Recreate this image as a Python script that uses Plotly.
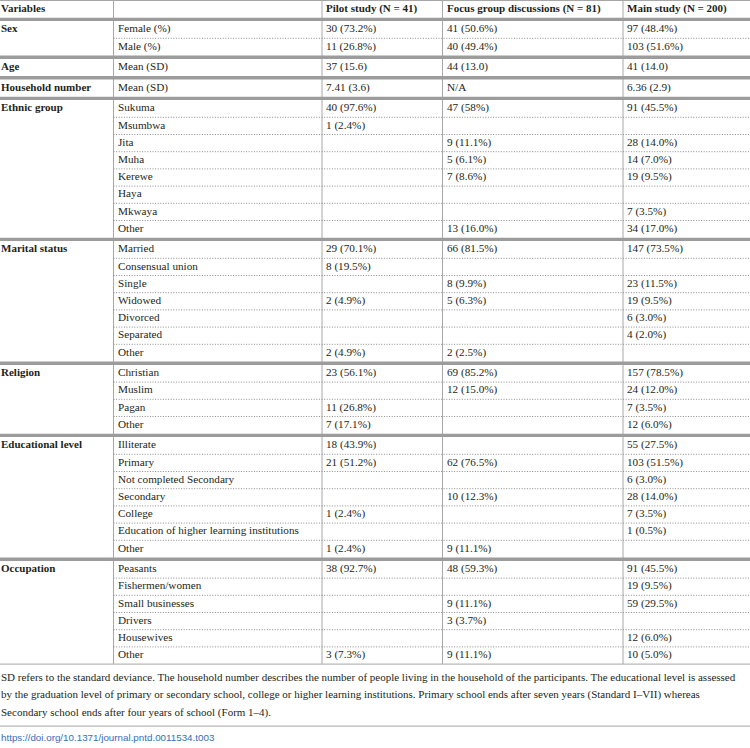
import plotly.graph_objects as go

# ---------------- data ----------------
header = ["Variables", "", "Pilot study (N = 41)", "Focus group discussions (N = 81)", "Main study (N = 200)"]

groups = ["Sex", "Age", "Household number", "Ethnic group", "Marital status",
          "Religion", "Educational level", "Occupation"]

subcats = [
    ["Female (%)", "Male (%)"],
    ["Mean (SD)"],
    ["Mean (SD)"],
    ["Sukuma", "Msumbwa", "Jita", "Muha", "Kerewe", "Haya", "Mkwaya", "Other"],
    ["Married", "Consensual union", "Single", "Widowed", "Divorced", "Separated", "Other"],
    ["Christian", "Muslim", "Pagan", "Other"],
    ["Illiterate", "Primary", "Not completed Secondary", "Secondary", "College",
     "Education of higher learning institutions", "Other"],
    ["Peasants", "Fishermen/women", "Small businesses", "Drivers", "Housewives", "Other"],
]

pilot = [
    ["30 (73.2%)", "11 (26.8%)"],
    ["37 (15.6)"],
    ["7.41 (3.6)"],
    ["40 (97.6%)", "1 (2.4%)", "", "", "", "", "", ""],
    ["29 (70.1%)", "8 (19.5%)", "", "2 (4.9%)", "", "", "2 (4.9%)"],
    ["23 (56.1%)", "", "11 (26.8%)", "7 (17.1%)"],
    ["18 (43.9%)", "21 (51.2%)", "", "", "1 (2.4%)", "", "1 (2.4%)"],
    ["38 (92.7%)", "", "", "", "", "3 (7.3%)"],
]

focus = [
    ["41 (50.6%)", "40 (49.4%)"],
    ["44 (13.0)"],
    ["N/A"],
    ["47 (58%)", "", "9 (11.1%)", "5 (6.1%)", "7 (8.6%)", "", "", "13 (16.0%)"],
    ["66 (81.5%)", "", "8 (9.9%)", "5 (6.3%)", "", "", "2 (2.5%)"],
    ["69 (85.2%)", "12 (15.0%)", "", ""],
    ["", "62 (76.5%)", "", "10 (12.3%)", "", "", "9 (11.1%)"],
    ["48 (59.3%)", "", "9 (11.1%)", "3 (3.7%)", "", "9 (11.1%)"],
]

main = [
    ["97 (48.4%)", "103 (51.6%)"],
    ["41 (14.0)"],
    ["6.36 (2.9)"],
    ["91 (45.5%)", "", "28 (14.0%)", "14 (7.0%)", "19 (9.5%)", "", "7 (3.5%)", "34 (17.0%)"],
    ["147 (73.5%)", "", "23 (11.5%)", "19 (9.5%)", "6 (3.0%)", "4 (2.0%)", ""],
    ["157 (78.5%)", "24 (12.0%)", "7 (3.5%)", "12 (6.0%)"],
    ["55 (27.5%)", "103 (51.5%)", "6 (3.0%)", "28 (14.0%)", "7 (3.5%)", "1 (0.5%)", ""],
    ["91 (45.5%)", "19 (9.5%)", "59 (29.5%)", "", "12 (6.0%)", "10 (5.0%)"],
]

footnote = [
    "SD refers to the standard deviance. The household number describes the number of people living in the household of the participants. The educational level is assessed",
    "by the graduation level of primary or secondary school, college or higher learning institutions. Primary school ends after seven years (Standard I\u2013VII) whereas",
    "Secondary school ends after four years of school (Form 1\u20134).",
]
doi = "https://doi.org/10.1371/journal.pntd.0011534.t003"

# ---------------- layout constants ----------------
W, H = 750, 748
col_edges = [0, 113.5, 322, 442.5, 623, W]
text_x = [1, 118, 326, 447, 627]
row_h = 17.2
thick = 3.4
txt_color = "#231f20"
serif = "Liberation Serif, Times New Roman, serif"
fs = 11.2
fs_bold = 11

shapes = []
def hline(y, x0, x1, color, width, dash="solid"):
    shapes.append(dict(type="line", xref="x", yref="y", x0=x0, x1=x1, y0=y, y1=y,
                       line=dict(color=color, width=width, dash=dash), layer="above"))

tx, ty, tt = [], [], []
bx, by, bt = [], [], []
def cell(col, y, text):
    if text:
        tx.append(text_x[col]); ty.append(y); tt.append(text)
def bcell(col, y, text):
    if text:
        bx.append(text_x[col]); by.append(y); bt.append("<b>%s</b>" % text)

y = 0.5
hline(y, 0, W, "#a6a6a6", 1)
hc = y + row_h / 2
for c, h in enumerate(header):
    bcell(c, hc, h)
y += row_h
thick_lines = [y + thick / 2]
y += thick

dotted = []
for g in range(len(groups)):
    for r in range(len(subcats[g])):
        c = y + row_h / 2
        if r == 0:
            bcell(0, c, groups[g])
        cell(1, c, subcats[g][r])
        cell(2, c, pilot[g][r])
        cell(3, c, focus[g][r])
        cell(4, c, main[g][r])
        y += row_h
        if r < len(subcats[g]) - 1:
            dotted.append(y)
    if g < len(groups) - 1:
        thick_lines.append(y + thick / 2)
        y += thick
table_bottom = y

# vertical column separators
for xe in col_edges[1:-1]:
    shapes.append(dict(type="line", xref="x", yref="y", x0=xe, x1=xe, y0=0, y1=table_bottom,
                       line=dict(color="#a8a8a8", width=1), layer="above"))
for yd in dotted:
    hline(yd, col_edges[1], W, "#8c8c8c", 1, "1px,1.6px")
for yt in thick_lines:
    hline(yt, 0, W, "#9c9c9c", thick)
hline(table_bottom, 0, W, "#a6a6a6", 1)

fig = go.Figure()
fig.add_trace(go.Scatter(x=tx, y=ty, text=tt, mode="text", textposition="middle right",
                         textfont=dict(family=serif, size=fs, color=txt_color),
                         hoverinfo="skip", showlegend=False, cliponaxis=False))
fig.add_trace(go.Scatter(x=bx, y=by, text=bt, mode="text", textposition="middle right",
                         textfont=dict(family=serif, size=fs_bold, color=txt_color),
                         hoverinfo="skip", showlegend=False, cliponaxis=False))

fn_y0 = table_bottom + 14
fn_gap = 17.5
fig.add_trace(go.Scatter(x=[1] * len(footnote), y=[fn_y0 + i * fn_gap for i in range(len(footnote))],
                         text=footnote, mode="text", textposition="middle right",
                         textfont=dict(family=serif, size=11, color=txt_color),
                         hoverinfo="skip", showlegend=False, cliponaxis=False))
sep_y = fn_y0 + (len(footnote) - 1) * fn_gap + 13
hline(sep_y, 0, W, "#a6a6a6", 1)
fig.add_trace(go.Scatter(x=[1], y=[sep_y + 12], text=[doi], mode="text", textposition="middle right",
                         textfont=dict(family="Liberation Sans Narrow, Liberation Sans, Arial Narrow, sans-serif",
                                       size=9.8, color="#3a6db5"),
                         hoverinfo="skip", showlegend=False, cliponaxis=False))

fig.update_layout(
    width=W, height=H, margin=dict(l=0, r=0, t=0, b=0),
    paper_bgcolor="white", plot_bgcolor="white",
    xaxis=dict(range=[0, W], visible=False, fixedrange=True),
    yaxis=dict(range=[H, 0], visible=False, fixedrange=True),
    shapes=shapes,
)
fig.write_html("out.html", config={"displayModeBar": False},
               post_script="document.body.style.margin='0';document.body.style.overflow='hidden';")
